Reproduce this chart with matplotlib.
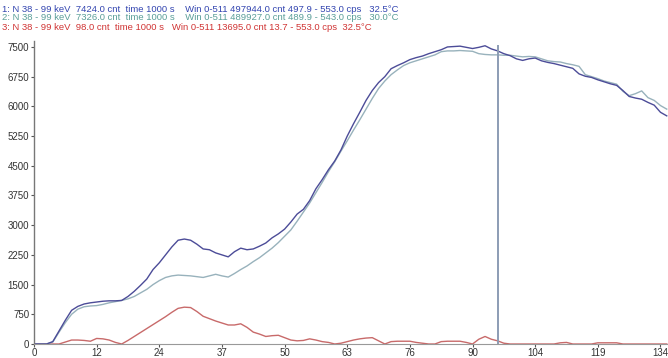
import matplotlib
matplotlib.use("Agg")
import matplotlib.pyplot as plt
import numpy as np

plt.rcParams["font.family"] = ["Liberation Sans", "DejaVu Sans"]

# eixo x em canais, rótulos em keV
canais_ticks = [0, 10, 20, 30, 40, 50, 60, 70, 80, 90, 100]
rotulos_ticks = ["0", "12", "24", "37", "50", "63", "76", "90", "104", "119", "134"]
yticks = [0, 750, 1500, 2250, 3000, 3750, 4500, 5250, 6000, 6750, 7500]
canal_marcador = 74

# espectro 1 (azul)
espectro_1 = [
    0, 0, 0, 60, 330, 600, 850, 950, 1010, 1040,
    1060, 1080, 1090, 1090, 1100, 1200, 1330, 1480, 1640, 1880,
    2050, 2250, 2450, 2620, 2650, 2620, 2520, 2400, 2380, 2300,
    2250, 2200, 2330, 2420, 2380, 2400, 2470, 2550, 2680, 2780,
    2900, 3080, 3280, 3400, 3620, 3920, 4150, 4400, 4620, 4900,
    5250, 5560, 5850, 6150, 6400, 6600, 6750, 6950, 7030, 7100,
    7180, 7230, 7270, 7330, 7380, 7430, 7500, 7510, 7520, 7490,
    7460, 7490, 7530, 7450, 7400, 7330, 7280, 7200, 7160, 7200,
    7220, 7150, 7110, 7080, 7040, 7000, 6960, 6820, 6760, 6730,
    6670, 6620, 6570, 6530, 6400, 6250, 6210, 6180, 6100, 6030,
    5850, 5760,
]

# espectro 2 (verde-acinzentado)
espectro_2 = [
    0, 0, 0, 50, 300, 540, 750, 880, 940, 960,
    970, 1000, 1040, 1070, 1100, 1140, 1200, 1290, 1380, 1500,
    1600, 1680, 1720, 1740, 1730, 1720, 1700, 1680, 1720, 1760,
    1720, 1690, 1780, 1880, 1970, 2080, 2180, 2300, 2420, 2560,
    2720, 2880, 3100, 3330, 3560, 3820, 4080, 4350, 4600, 4870,
    5130, 5400, 5660, 5930, 6200, 6450, 6640, 6800, 6920, 7030,
    7100, 7150, 7200, 7250, 7300, 7380, 7400, 7400, 7410, 7400,
    7390, 7330, 7310, 7300, 7300, 7290, 7290, 7270, 7250, 7260,
    7250, 7200, 7150, 7130, 7120, 7080, 7050, 7010, 6800, 6750,
    6700, 6640, 6600, 6560, 6380, 6270, 6320, 6390, 6220, 6150,
    6020, 5930,
]

# espectro 3 (vermelho)
espectro_3 = [
    0, 0, 0, 0, 0, 50, 100, 100, 90, 70,
    140, 130, 100, 40, 0, 90, 190, 290, 390, 490,
    590, 690, 800, 900, 930, 920, 820, 700, 640, 580,
    530, 480, 480, 510, 420, 300, 250, 190, 210, 220,
    160, 100, 80, 90, 130, 100, 60, 40, 0, 20,
    60, 100, 130, 150, 160, 80, 0, 60, 70, 70,
    70, 40, 20, 0, 0, 60, 70, 70, 70, 40,
    0, 120, 190, 120, 80, 20, 0, 0, 0, 0,
    0, 0, 0, 0, 30, 40, 0, 0, 0, 0,
    30, 30, 30, 30, 0, 0, 0, 0, 0, 0,
    0, 0,
]

cabecalhos = [
    ("1: N 38 - 99 keV  7424.0 cnt  time 1000 s    Win 0-511 497944.0 cnt 497.9 - 553.0 cps   32.5°C", "#3345b0"),
    ("2: N 38 - 99 keV  7326.0 cnt  time 1000 s    Win 0-511 489927.0 cnt 489.9 - 543.0 cps   30.0°C", "#5a9e98"),
    ("3: N 38 - 99 keV  98.0 cnt  time 1000 s   Win 0-511 13695.0 cnt 13.7 - 553.0 cps  32.5°C", "#d03434"),
]

fig = plt.figure(figsize=(6.68, 3.58), dpi=100)
ax = fig.add_axes([34 / 668, 14 / 358, 1 - 34 / 668, 303 / 358])

canais = np.arange(len(espectro_1))
ax.plot(canais, espectro_3, color="#c86a6a", linewidth=1.0)
ax.plot(canais, espectro_2, color="#98b2bc", linewidth=1.0)
ax.plot(canais, espectro_1, color="#4c4c98", linewidth=1.0)

# linha do marcador
ax.axvline(canal_marcador, ymax=0.985, color="#8c9cb4", linewidth=1.4)

ax.set_xlim(0, 101.2)
ax.set_ylim(0, 7650)
ax.set_xticks(canais_ticks)
ax.set_xticklabels(rotulos_ticks)
ax.set_yticks(yticks)
ax.set_yticklabels([str(v) for v in yticks])

ax.tick_params(axis="both", labelsize=7, length=2.5, width=0.8,
               colors="#555555", labelcolor="#333333", pad=1)
ax.tick_params(axis="x", pad=0.5)

for lado in ["top", "right"]:
    ax.spines[lado].set_visible(False)
ax.spines["left"].set_color("#777777")
ax.spines["bottom"].set_color("#999999")
ax.spines["left"].set_linewidth(1.0)
ax.spines["bottom"].set_linewidth(0.8)

# cabeçalho dos espectros
for i, (texto, cor) in enumerate(cabecalhos):
    fig.text(2 / 668, 1 - (9 + 9 * i) / 358, texto, color=cor,
             fontsize=6.8, va="center", ha="left")

fig.savefig("out.png", dpi=100)
